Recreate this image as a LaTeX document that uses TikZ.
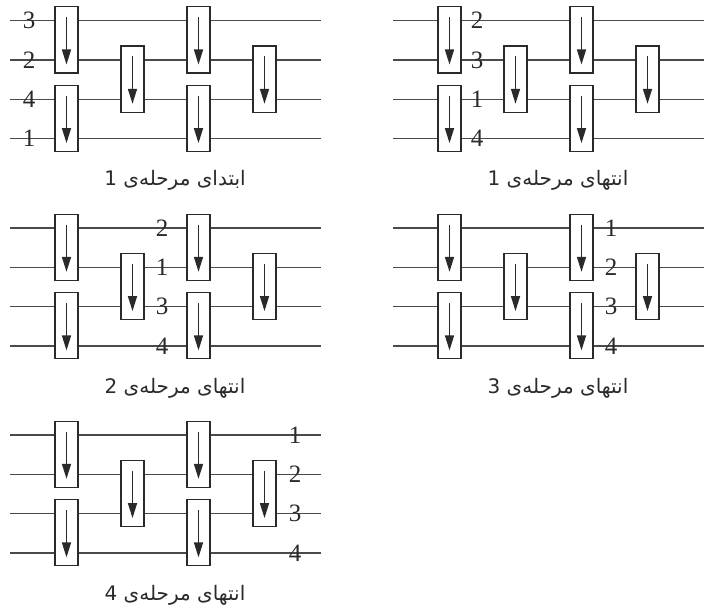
\documentclass[tikz,border=0pt]{standalone}
\usepackage{fontspec}
\usetikzlibrary{arrows.meta}
\TeXXeTstate=1
\newfontfamily\arabicfont[Script=Arabic]{DejaVu Sans}
\newfontfamily\numfont{Liberation Serif}
\definecolor{ink}{HTML}{2A2A2A}
\definecolor{wire}{HTML}{4A4A4A}
\tikzset{
  wireline/.style={draw=wire, line width=1.2pt},
  sortbox/.style={draw=ink, fill=white, line width=1.3pt, minimum width=23pt, minimum height=66pt, inner sep=0pt},
  sortarrow/.style={draw=ink, line width=1.5pt, -{Triangle[length=15pt,width=9pt]}},
  wirelabel/.style={font=\numfont\fontsize{25}{25}\selectfont, text=ink, inner sep=0pt},
  captext/.style={font=\arabicfont\fontsize{20}{22}\selectfont, text=ink, inner sep=0pt}
}
% #1 name, #2 X, #3 Y, #4 label dx, #5-#8 labels, #9 caption
\newcommand\sortpanel[9]{%
  \foreach \i in {1,...,4} {
    \coordinate (#1w\i s) at (#2, #3+39.3*\i-39.3);
    \coordinate (#1w\i e) at (#2+311, #3+39.3*\i-39.3);
    \draw[wireline] (#1w\i s) -- (#1w\i e);
  }
  \node[sortbox] (#1c1t) at (#2+56.5, #3+19.15) {};
  \node[sortbox] (#1c1b) at (#2+56.5, #3+97.75) {};
  \node[sortbox] (#1c2m) at (#2+122.5, #3+58.45) {};
  \node[sortbox] (#1c3t) at (#2+188.5, #3+19.15) {};
  \node[sortbox] (#1c3b) at (#2+188.5, #3+97.75) {};
  \node[sortbox] (#1c4m) at (#2+254.5, #3+58.45) {};
  \foreach \bx in {c1t,c1b,c2m,c3t,c3b,c4m} {
    \draw[sortarrow] ([yshift=-11pt]#1\bx.north) -- ([yshift=9pt]#1\bx.south);
  }
  \node[wirelabel] (#1n1) at (#2+#4, #3) {#5};
  \node[wirelabel] (#1n2) at (#2+#4, #3+39.3) {#6};
  \node[wirelabel] (#1n3) at (#2+#4, #3+78.6) {#7};
  \node[wirelabel] (#1n4) at (#2+#4, #3+117.9) {#8};
  \node[captext] (#1cap) at (#2+165, #3+160) {#9};
}
\begin{document}
\begin{tikzpicture}[x=1pt, y=-1pt]
  \useasboundingbox[fill=white] (0,0) rectangle (709,610);
  \sortpanel{pa}{10}{20.7}{19}{3}{2}{4}{1}{\beginR ابتدای مرحله‌ی 1\endR}
  \sortpanel{pb}{393}{20.7}{84}{2}{3}{1}{4}{\beginR انتهای مرحله‌ی 1\endR}
  \sortpanel{pc}{10}{228}{152}{2}{1}{3}{4}{\beginR انتهای مرحله‌ی 2\endR}
  \sortpanel{pd}{393}{228}{218}{1}{2}{3}{4}{\beginR انتهای مرحله‌ی 3\endR}
  \sortpanel{pe}{10}{435}{285}{1}{2}{3}{4}{\beginR انتهای مرحله‌ی 4\endR}
\end{tikzpicture}
\end{document}
